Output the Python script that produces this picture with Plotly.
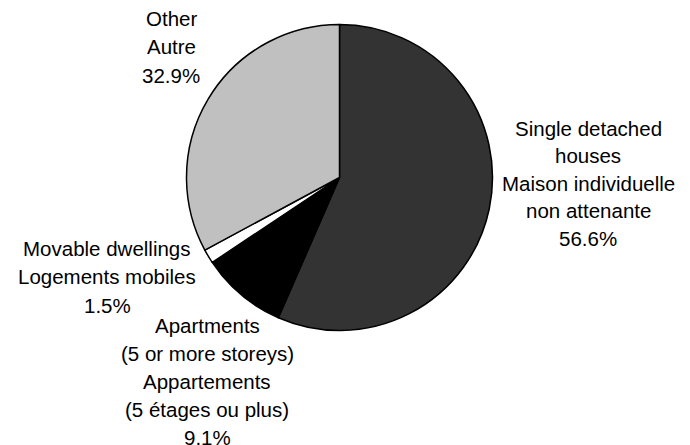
import plotly.graph_objects as go

# dwelling types, English / French
labels_en = ["Single detached houses", "Apartments (5 or more storeys)", "Movable dwellings", "Other"]
label_lines = [
    ["Single detached", "houses", "Maison individuelle", "non attenante"],
    ["Apartments", "(5 or more storeys)", "Appartements", "(5 étages ou plus)"],
    ["Movable dwellings", "Logements mobiles"],
    ["Other", "Autre"],
]
shares = [56.6, 9.1, 1.5, 32.9]
colors = ["#333333", "#000000", "#ffffff", "#c0c0c0"]

W, H = 690, 445
off = 8  # page body margin

fig = go.Figure(go.Pie(
    labels=labels_en,
    values=shares,
    sort=False,
    direction="clockwise",
    rotation=0,
    textinfo="none",
    hoverinfo="label+percent",
    marker=dict(colors=colors, line=dict(color="#000000", width=1.5)),
    domain=dict(x=[(186.5 - off) / W, (492.5 - off) / W], y=[1 - (330.5 - off) / H, 1 - (24.5 - off) / H]),
    showlegend=False,
))

# label block placement (centre x, first line y, line gap) in pixels
label_pos = [(588, 128, 27.5), (207, 325, 28.2), (107, 248, 28.5), (171, 18, 28.5)]

annotations = []
for lines, val, (cx, y0, gap) in zip(label_lines, shares, label_pos):
    for i, t in enumerate(lines + [f"{val:.1f}%"]):
        annotations.append(dict(
            x=(cx - off) / W, y=1 - (y0 - off + i * gap) / H,
            xref="paper", yref="paper",
            text=t, showarrow=False,
            xanchor="center", yanchor="middle",
            font=dict(family="Liberation Sans, Arial", size=20.5, color="#000000"),
        ))

fig.update_layout(
    width=W, height=H,
    margin=dict(l=0, r=0, t=0, b=0),
    paper_bgcolor="white",
    plot_bgcolor="white",
    annotations=annotations,
)

fig.write_html("out.html")
